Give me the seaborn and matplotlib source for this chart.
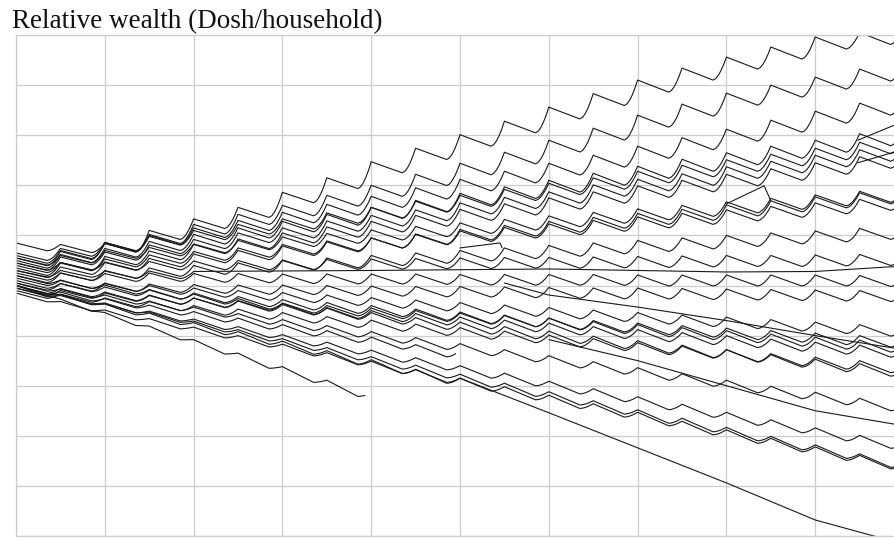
import matplotlib
matplotlib.use('Agg')
import matplotlib.pyplot as plt
import numpy as np
import pandas as pd
import seaborn as sns

# peak value of each household at every harvest (t = 0, 1, 2 ...), in grid units
hh_a = [5.85, 5.82, 5.84, 6.10, 6.33, 6.56, 6.86, 7.15, 7.47, 7.74, 8.01, 8.28, 8.56, 8.83, 9.10, 9.34, 9.56, 9.76, 9.96, 10.05, 10.25]
hh_b = [5.55, 5.68, 5.86, 6.02, 6.22, 6.42, 6.60, 6.80, 7.00, 7.22, 7.44, 7.66, 7.90, 8.14, 8.40, 8.62, 8.84, 9.00, 9.16, 9.32, 9.48]
hh_c = [5.60, 5.70, 5.84, 6.00, 6.15, 6.30, 6.46, 6.62, 6.78, 6.95, 7.12, 7.28, 7.44, 7.60, 7.78, 7.95, 8.12, 8.30, 8.48, 8.64, 8.80]
hh_d = [5.50, 5.62, 5.74, 5.88, 6.02, 6.15, 6.28, 6.42, 6.56, 6.70, 6.84, 6.97, 7.10, 7.24, 7.38, 7.52, 7.65, 7.78, 7.90, 8.03, 8.16]
hh_e = [5.65, 5.74, 5.86, 5.98, 6.10, 6.22, 6.33, 6.45, 6.56, 6.68, 6.80, 6.92, 7.04, 7.15, 7.28, 7.40, 7.51, 7.62, 7.74, 7.86, 7.98]
hh_f = [5.45, 5.57, 5.67, 5.81, 5.92, 6.05, 6.15, 6.29, 6.40, 6.51, 6.65, 6.76, 6.87, 7.01, 7.12, 7.23, 7.37, 7.48, 7.60, 7.71, 7.84]
hh_g = [5.35, 5.45, 5.58, 5.69, 5.82, 5.93, 6.05, 6.17, 6.28, 6.40, 6.52, 6.63, 6.75, 6.87, 6.99, 7.10, 7.22, 7.33, 7.45, 7.57, 7.68]
hh_h = [5.55, 5.60, 5.70, 5.76, 5.83, 5.90, 5.97, 6.04, 6.11, 6.18, 6.25, 6.32, 6.39, 6.46, 6.53, 6.60, 6.67, 6.74, 6.81, 6.88, 6.95]
hh_i = [5.30, 5.37, 5.46, 5.54, 5.63, 5.70, 5.79, 5.87, 5.95, 6.03, 6.12, 6.20, 6.28, 6.36, 6.44, 6.52, 6.61, 6.69, 6.77, 6.85, 6.93]
hh_j = [5.40, 5.46, 5.53, 5.61, 5.68, 5.75, 5.82, 5.89, 5.95, 6.02, 6.09, 6.16, 6.23, 6.30, 6.37, 6.44, 6.51, 6.58, 6.65, 6.72, 6.79]
hh_k = [5.20, 5.25, 5.30, 5.35, 5.40, 5.45, 5.50, 5.55, 5.60, 5.65, 5.70, 5.75, 5.80, 5.85, 5.90, 5.95, 6.00, 6.05, 6.09, 6.14, 6.19]
hh_l = [5.45, 5.46, 5.47, 5.48, 5.49, 5.50, 5.51, 5.52, 5.53, 5.54, 5.55, 5.56, 5.56, 5.57, 5.58, 5.59, 5.60, 5.60, 5.61, 5.62, 5.63]
hh_n = [5.25, 5.25, 5.24, 5.25, 5.24, 5.24, 5.23, 5.23, 5.23, 5.23, 5.22, 5.22, 5.22, 5.22, 5.21, 5.21, 5.21, 5.21, 5.21, 5.20, 5.20]
hh_o = [5.05, 5.04, 5.04, 5.03, 5.02, 5.01, 5.01, 5.00, 4.99, 4.98, 4.98, 4.97, 4.96, 4.95, 4.95, 4.94, 4.93, 4.92, 4.91, 4.90, 4.90]
hh_p = [5.15, 5.10, 5.05, 5.00, 4.95, 4.90, 4.86, 4.81, 4.76, 4.71, 4.66, 4.61, 4.56, 4.51, 4.46, 4.41, 4.37, 4.32, 4.27, 4.22, 4.17]
hh_q = [4.95, 4.90, 4.85, 4.80, 4.75, 4.70, 4.65, 4.60, 4.55, 4.50, 4.45, 4.40, 4.35, 4.30, 4.25, 4.20, 4.15, 4.10, 4.05, 4.00, 3.95]
hh_r = [5.10, 5.04, 4.97, 4.91, 4.85, 4.78, 4.72, 4.66, 4.60, 4.53, 4.47, 4.41, 4.35, 4.28, 4.22, 4.16, 4.10, 4.03, 3.97, 3.91, 3.85]
hh_s = [5.00, 4.94, 4.87, 4.81, 4.75, 4.69, 4.62, 4.56, 4.50, 4.44, 4.37, 4.31, 4.25, 4.18, 4.12, 4.06, 4.00, 3.93, 3.87, 3.81, 3.75]
hh_t = [4.90, 4.83, 4.75, 4.68, 4.60, 4.53, 4.46, 4.38, 4.31, 4.23, 4.16, 4.09, 4.01, 3.94, 3.86, 3.79, 3.72, 3.64, 3.57, 3.50, 3.42]
hh_u = [5.20, 5.11, 5.01, 4.92, 4.83, 4.74, 4.64, 4.55, 4.46, 4.36, 4.27, 4.18, 4.09, 3.99, 3.90, 3.81, 3.72, 3.62, 3.53, 3.44, 3.34]
hh_v = [5.05, 4.93, 4.81, 4.69, 4.57, 4.44, 4.32, 4.20, 4.08, 3.96, 3.84, 3.72, 3.60, 3.48, 3.36, 3.24, 3.11, 2.99, 2.87, 2.75, 2.63]
hh_w = [4.95, 4.80, 4.64, 4.49, 4.33, 4.18, 4.02, 3.87, 3.71, 3.56, 3.40, 3.25, 3.09, 2.94, 2.78, 2.63, 2.47, 2.32, 2.16, 2.01, 1.85]
hh_x = [5.00, 4.82, 4.65, 4.47, 4.29, 4.12, 3.94, 3.76, 3.58, 3.41, 3.23, 3.05, 2.88, 2.70, 2.52, 2.35, 2.17, 1.99, 1.82, 1.64, 1.46]
hh_y = [4.85, 4.68, 4.51, 4.34, 4.17, 4.00, 3.83, 3.66, 3.49, 3.32, 3.15, 2.98, 2.81, 2.64, 2.47, 2.29, 2.12, 1.95, 1.78, 1.61, 1.44]
hh_m = [5.30, 5.30, 5.29, 5.29, 5.28]
hh_z = [5.00, 4.82, 4.63, 4.45, 4.26, 4.08, 3.89, 3.70, 3.52, 3.33, 3.15]
hh_end1 = [5.01, 4.73, 4.46, 4.19, 3.92, 3.65, 3.38, 3.11, 2.84]
hh_end2 = [5.00, 4.87, 4.74, 4.61, 4.48, 4.35, 4.22, 4.10, 3.97, 3.82, 3.70]

# pre-harvest drop of each household (full size), and how big the drop is each season
dips_main = [0.24, 0.24, 0.24, 0.24, 0.23, 0.23, 0.23, 0.22, 0.22, 0.22, 0.22, 0.22,
             0.22, 0.22, 0.23, 0.23, 0.24, 0.24, 0.24, 0.25, 0.25, 0.26, 0.27, 0.27]
season_scale = [0.65, 0.68, 0.72, 0.76, 0.8, 0.84, 0.87, 0.9, 0.92, 0.94,
                0.96, 0.97, 0.98, 0.99, 1.0, 1.0, 1.0, 1.0, 1.0, 1.0]

# flat (no harvest) stretches: times and values
m_tail_t = [4, 8, 12, 16, 18, 20]
m_tail_v = [5.27, 5.30, 5.33, 5.27, 5.28, 5.39]
z_tail_t = [10, 12, 14, 16, 18, 19.4]
z_tail_v = [3.15, 2.46, 1.76, 1.06, 0.32, -0.02]
s1_t = [11, 12, 14, 16, 18, 20]
s1_v = [5.05, 4.81, 4.57, 4.30, 4.00, 3.72]
s2_t = [12, 14, 16, 18, 20]
s2_v = [3.92, 3.50, 3.00, 2.50, 2.20]
jump1_t = [16.0, 16.85, 17.0]
jump1_v = [6.63, 6.99, 6.69]
jump2_t = [10.0, 10.9, 10.95]
jump2_v = [5.75, 5.85, 5.75]
cross1_t = [18.96, 20.0]
cross1_v = [7.90, 8.28]
cross2_t = [18.96, 20.0]
cross2_v = [7.45, 7.72]


def sawtooth(peaks, dip, t_end=None):
    ts, vs = [], []
    for k in range(len(peaks) - 1):
        p0, p1 = peaks[k], peaks[k + 1]
        low = p0 - dip * season_scale[k]
        ts += [k, k + 0.70]
        vs += [p0, low]
        for u in (0.2, 0.4, 0.6, 0.8, 0.92):
            ts.append(k + 0.70 + 0.30 * u)
            vs.append(low + (p1 - low) * u ** 1.7)
    ts.append(len(peaks) - 1)
    vs.append(peaks[-1])
    if t_end is not None:
        end_v = float(np.interp(t_end, ts, vs))
        keep = [i for i, t in enumerate(ts) if t < t_end]
        ts = [ts[i] for i in keep] + [t_end]
        vs = [vs[i] for i in keep] + [end_v]
    return ts, vs


main = [hh_a, hh_b, hh_c, hh_d, hh_e, hh_f, hh_g, hh_h, hh_i, hh_j, hh_k, hh_l,
        hh_n, hh_o, hh_p, hh_q, hh_r, hh_s, hh_t, hh_u, hh_v, hh_w, hh_x, hh_y]

rows = []
def add(name, ts, vs):
    for t, v in zip(ts, vs):
        rows.append((name, t, v))

for i, (pk, d) in enumerate(zip(main, dips_main)):
    add(f"h{i}", *sawtooth(pk, d))

ts, vs = sawtooth(hh_m, 0.2)
add("m", ts + m_tail_t[1:], vs + m_tail_v[1:])
ts, vs = sawtooth(hh_z, 0.3)
add("z", ts + z_tail_t[1:], vs + z_tail_v[1:])
add("end1", *sawtooth(hh_end1, 0.36, t_end=7.86))
add("end2", *sawtooth(hh_end2, 0.26, t_end=9.9))
add("s1", s1_t, s1_v)
add("s2", s2_t, s2_v)
add("j1", jump1_t, jump1_v)
add("j2", jump2_t, jump2_v)
add("c1", cross1_t, cross1_v)
add("c2", cross2_t, cross2_v)

df = pd.DataFrame(rows, columns=["hh", "t", "v"])

sns.set_theme(style="whitegrid")
fig = plt.figure(figsize=(8.95, 5.38), dpi=100)
ax = fig.add_axes([16 / 895, 2 / 538, 888 / 895, 501 / 538])

sns.lineplot(data=df, x="t", y="v", units="hh", estimator=None, sort=False,
             color="#1a1a1a", lw=0.8, legend=False, ax=ax)

ax.set_xlim(0, 20)
ax.set_ylim(0, 10)
ax.set_xticks(np.arange(0, 21, 2))
ax.set_yticks(np.arange(0, 11, 1))
ax.tick_params(length=0, labelbottom=False, labelleft=False)
ax.set_xlabel("")
ax.set_ylabel("")
ax.grid(True, color="#cccccc", lw=0.9)
for sp in ax.spines.values():
    sp.set_color("#cccccc")
    sp.set_linewidth(0.9)

fig.text(12 / 895, 1 - 28 / 538, "Relative wealth (Dosh/household)",
         family=["Liberation Serif", "DejaVu Serif"], fontsize=19.5,
         va="baseline", ha="left", color="#111111")

fig.savefig("out.png", dpi=100)
